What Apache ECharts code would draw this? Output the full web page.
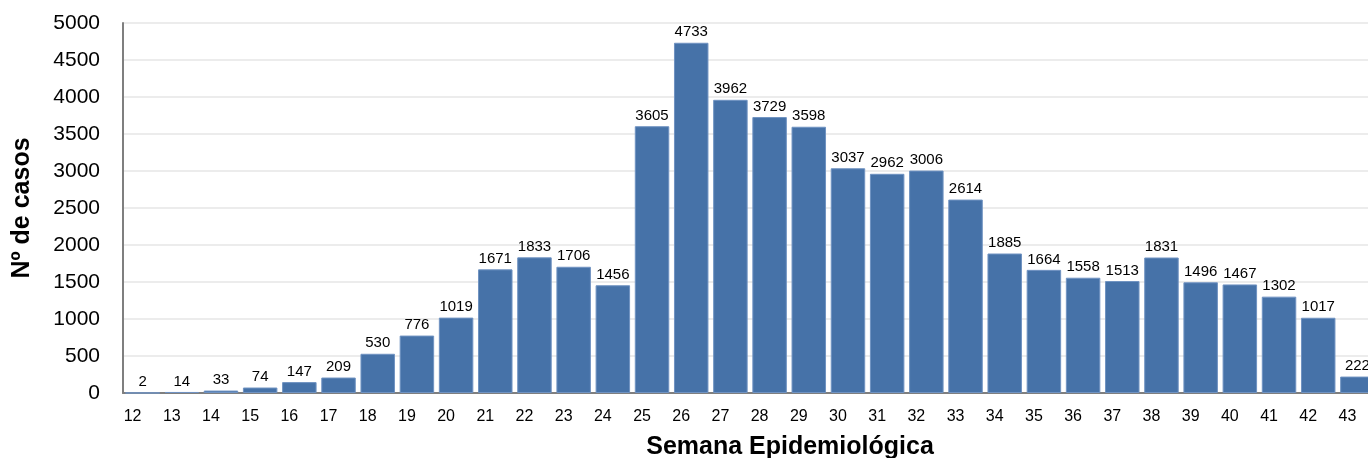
<!DOCTYPE html>
<html>
<head>
<meta charset="utf-8">
<script src="https://cdn.jsdelivr.net/npm/echarts@6/dist/echarts.min.js"></script>
<style>
html,body{margin:0;padding:0;background:#fff;}
#chart{width:1368px;height:458px;}
</style>
</head>
<body>
<div id="chart"></div>
<script>
var weeks = ['12','13','14','15','16','17','18','19','20','21','22','23','24','25','26','27','28','29','30','31','32','33','34','35','36','37','38','39','40','41','42','43'];
var cases = [2,14,33,74,147,209,530,776,1019,1671,1833,1706,1456,3605,4733,3962,3729,3598,3037,2962,3006,2614,1885,1664,1558,1513,1831,1496,1467,1302,1017,222];
var yTicks = [0,500,1000,1500,2000,2500,3000,3500,4000,4500,5000];

var chart = echarts.init(document.getElementById('chart'));
chart.setOption({
  animation: false,
  grid: {left: 123, right: -9, top: 23, bottom: 65, containLabel: false, outerBoundsMode: 'none'},
  xAxis: {
    type: 'category',
    data: weeks,
    name: 'Semana Epidemiológica',
    nameLocation: 'middle',
    nameGap: 42,
    nameTextStyle: {fontFamily: 'Liberation Sans', fontSize: 25, fontWeight: 'bold', color: '#000', padding: [0, 0, 0, 80]},
    axisLine: {lineStyle: {color: '#7f7f7f', width: 2}},
    axisTick: {show: false},
    axisLabel: {fontFamily: 'Liberation Sans', fontSize: 16, color: '#000', margin: 16, padding: [0, 20, 0, 0], interval: 0}
  },
  yAxis: {
    type: 'value',
    min: yTicks[0],
    max: yTicks[yTicks.length - 1],
    interval: yTicks[1] - yTicks[0],
    name: 'Nº de casos',
    nameLocation: 'middle',
    nameGap: 88,
    nameTextStyle: {fontFamily: 'Liberation Sans', fontSize: 25, fontWeight: 'bold', color: '#000'},
    axisLine: {show: true, lineStyle: {color: '#7f7f7f', width: 2}},
    axisTick: {show: false},
    axisLabel: {fontFamily: 'Liberation Sans', fontSize: 21, color: '#000', margin: 23, formatter: function (v) { return String(v); }},
    splitLine: {lineStyle: {color: '#ececec', width: 2}}
  },
  series: [{
    type: 'bar',
    data: cases,
    barCategoryGap: '12%',
    itemStyle: {color: '#4672a8', borderColor: '#7093c2', borderWidth: 1},
    label: {show: true, position: 'top', distance: 3, fontFamily: 'Liberation Sans', fontSize: 15, color: '#000'}
  }]
});
</script>
</body>
</html>
